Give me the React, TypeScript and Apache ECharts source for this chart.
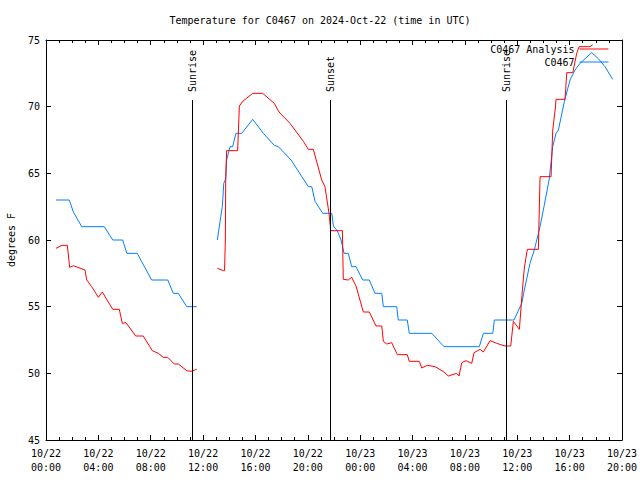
import React, { useEffect, useRef } from "react";
import * as echarts from "echarts";

// hours since 2024-10-22 00:00 UTC ; null = data gap
const analysisHours = [0.76, 1.22, 1.63, 1.81, 2.09, 2.98, 3.11, 3.49, 4.0, 4.3, 5.1, 5.6, 5.83, 6.11, 6.85, 7.43, 8.12, 8.58, 8.96, 9.3, 9.8, 10.11, 10.75, 11.08, 11.51,
  11.8,
  13.09, 13.55, 13.64, 13.7, 13.73, 13.8, 14.64, 14.77, 15.03, 15.79, 16.55, 17.44, 17.8, 18.64, 19.66, 20.04, 20.42, 21.06, 21.31, 21.62, 21.75, 22.64, 22.71, 23.09, 23.35, 23.68, 24.24, 24.7, 25.21, 25.65, 25.77, 26.03, 26.41, 26.84, 27.6, 27.75, 28.52, 28.7, 29.13, 29.72, 30.4, 30.73, 31.37, 31.55, 31.76, 32.09, 32.52, 32.7, 33.16, 33.41, 33.92, 34.43, 35.06, 35.5, 35.7, 36.16, 36.39, 36.54, 36.65, 36.77, 37.61, 37.74, 38.58, 38.71, 38.91, 38.96, 39.65, 39.78, 40.24, 40.54, 40.72, 41.56, 41.76];
const analysisTemps = [59.37, 59.6, 59.6, 57.95, 58.07, 57.75, 57.0, 56.5, 55.7, 56.1, 54.8, 54.8, 53.75, 53.8, 52.8, 52.8, 51.7, 51.5, 51.2, 51.2, 50.7, 50.7, 50.2, 50.15, 50.3,
  null,
  57.88, 57.7, 57.7, 60.0, 64.75, 66.7, 66.7, 70.05, 70.4, 71.0, 71.0, 70.25, 69.6, 68.75, 67.4, 66.8, 66.8, 64.5, 64.0, 62.0, 60.7, 60.7, 57.05, 57.0, 57.2, 56.55, 54.6, 54.6, 53.55, 53.55, 52.4, 52.2, 52.3, 51.4, 51.4, 50.9, 50.9, 50.4, 50.6, 50.5, 50.1, 49.8, 50.0, 49.8, 50.8, 50.95, 50.75, 51.55, 51.8, 51.6, 52.45, 52.25, 52.05, 52.05, 53.9, 53.3, 56.25, 57.9, 58.6, 59.3, 59.3, 64.75, 64.75, 68.25, 69.9, 70.55, 70.55, 72.55, 72.55, 74.0, 74.5, 74.5, 74.65];

const stationHours = [0.76, 1.78, 2.09, 2.73, 4.45, 5.1, 5.86, 6.17, 6.97, 8.07, 9.3, 9.73, 10.11, 10.75, 11.51,
  11.8,
  13.09, 13.35, 13.47, 13.58, 13.73, 13.8, 14.06, 14.26, 14.51, 14.95, 15.79, 16.6, 17.44, 17.75, 18.72, 20.04, 20.3, 20.55, 21.14, 21.83, 21.95, 22.25, 22.54, 22.77, 23.09, 23.35, 23.68, 24.19, 24.7, 25.13, 25.65, 25.77, 26.79, 26.91, 27.6, 27.75, 29.47, 30.4, 33.1, 33.41, 34.13, 34.25, 35.75, 36.34, 36.54, 36.97, 37.3, 37.74, 38.04, 38.43, 38.71, 38.96, 39.14, 39.6, 40.03, 40.41, 40.79, 41.69, 42.19, 42.7, 43.29];
const stationTemps = [63, 63, 62.1, 61, 61, 60, 60, 59, 59, 57, 57, 56, 56, 55, 55,
  null,
  60, 61.75, 62.5, 64.25, 64.6, 66, 67, 67, 68, 68, 69.05, 68, 67.1, 67, 66, 64, 64, 62.9, 62, 62, 61.05, 60.7, 60, 59, 59, 58, 58, 57, 57, 56, 56, 55, 55, 54, 54, 53, 53, 52, 52, 53, 53, 54, 54, 55.25, 56.25, 58.25, 59.25, 61, 62.5, 64.5, 67, 68, 68.25, 70.4, 72, 72.75, 73.25, 74.05, 73.6, 73.0, 72.05];

const sunEventNames = ["Sunrise", "Sunset", "Sunrise"];
const sunEventHours = [11.21, 21.7, 35.14];

const seriesNames = ["C0467 Analysis", "C0467"];
const seriesColors = ["#ff0000", "#0080ff"];

const FONT = "DejaVu Sans Mono";

function pad(n: number) {
  return n < 10 ? "0" + n : "" + n;
}

export default function App() {
  const ref = useRef<HTMLDivElement>(null);
  useEffect(() => {
    if (!ref.current) return;
    const chart = echarts.init(ref.current, null, { renderer: "svg" });
    const pairs = (h: number[], v: (number | null)[]) =>
      h.map((x, i) => [x, v[i] === null ? "-" : v[i]]);
    const axisCommon = {
      type: "value" as const,
      min: 0,
      max: 44,
      interval: 4,
      splitLine: { show: false },
      axisLine: { show: true, onZero: false, lineStyle: { color: "#000", width: 1 } },
      axisTick: { show: true, inside: true, length: 5, lineStyle: { color: "#000" } },
      minorTick: { show: true, splitNumber: 4, length: 3, lineStyle: { color: "#000" } },
    };
    const yCommon = {
      type: "value" as const,
      min: 45,
      max: 75,
      interval: 5,
      splitLine: { show: false },
      axisLine: { show: true, onZero: false, lineStyle: { color: "#000", width: 1 } },
      axisTick: { show: true, inside: true, length: 5, lineStyle: { color: "#000" } },
    };
    chart.setOption({
      animation: false,
      backgroundColor: "#fff",
      title: {
        text: "Temperature for C0467 on 2024-Oct-22 (time in UTC)",
        left: "center",
        top: 10,
        textStyle: { fontFamily: FONT, fontSize: 10, fontWeight: "normal", color: "#000" },
      },
      legend: {
        orient: "vertical",
        align: "right",
        right: 31,
        top: 44,
        padding: 0,
        itemWidth: 29,
        itemHeight: 12,
        itemGap: 3,
        itemStyle: { opacity: 0 },
        lineStyle: { width: 1 },
        textStyle: { fontFamily: FONT, fontSize: 10, color: "#000" },
        data: seriesNames,
      },
      grid: { left: 46, right: 18, top: 40, bottom: 40, containLabel: false, outerBoundsMode: "none" },
      xAxis: [
        {
          ...axisCommon,
          position: "bottom",
          axisLabel: {
            fontFamily: FONT,
            fontSize: 10,
            color: "#000",
            lineHeight: 14,
            margin: 6,
            formatter: (v: number) => {
              const day = v < 24 ? "10/22" : "10/23";
              return day + "\n" + pad(v % 24) + ":00";
            },
          },
        },
        { ...axisCommon, position: "top", axisLabel: { show: false } },
      ],
      yAxis: [
        {
          ...yCommon,
          position: "left",
          name: "degrees F",
          nameLocation: "middle",
          nameGap: 30,
          nameRotate: 90,
          nameTextStyle: { fontFamily: FONT, fontSize: 10, color: "#000" },
          axisLabel: { fontFamily: FONT, fontSize: 10, color: "#000", margin: 6 },
        },
        { ...yCommon, position: "right", axisLabel: { show: false } },
      ],
      series: [
        {
          name: seriesNames[0],
          type: "line",
          data: pairs(analysisHours, analysisTemps),
          symbol: "none",
          connectNulls: false,
          color: seriesColors[0],
          lineStyle: { color: seriesColors[0], width: 1 },
          itemStyle: { color: seriesColors[0] },
          z: 3,
          markLine: {
            silent: true,
            symbol: "none",
            label: { show: false },
            lineStyle: { color: "#000", width: 1, type: "solid" },
            data: sunEventHours.map((h) => [
              { coord: [h, 45] },
              { coord: [h, 70.5] },
            ]),
          },
        },
        {
          name: seriesNames[1],
          type: "line",
          data: pairs(stationHours, stationTemps),
          symbol: "none",
          connectNulls: false,
          color: seriesColors[1],
          lineStyle: { color: seriesColors[1], width: 1 },
          itemStyle: { color: seriesColors[1] },
          z: 2,
        },
      ],
    });
    const graphics = sunEventHours.map((h, i) => {
      const px = chart.convertToPixel({ xAxisIndex: 0 }, h) as number;
      const py = chart.convertToPixel({ yAxisIndex: 0 }, 71.1) as number;
      return {
        type: "text",
        x: px,
        y: py,
        rotation: Math.PI / 2,
        style: {
          text: sunEventNames[i],
          fontFamily: FONT,
          fontSize: 10,
          fill: "#000",
          align: "left",
          verticalAlign: "middle",
        },
      };
    });
    chart.setOption({ graphic: graphics });
    return () => chart.dispose();
  }, []);
  return <div ref={ref} style={{ width: 640, height: 480, position: "absolute", left: 0, top: 0 }} />;
}
